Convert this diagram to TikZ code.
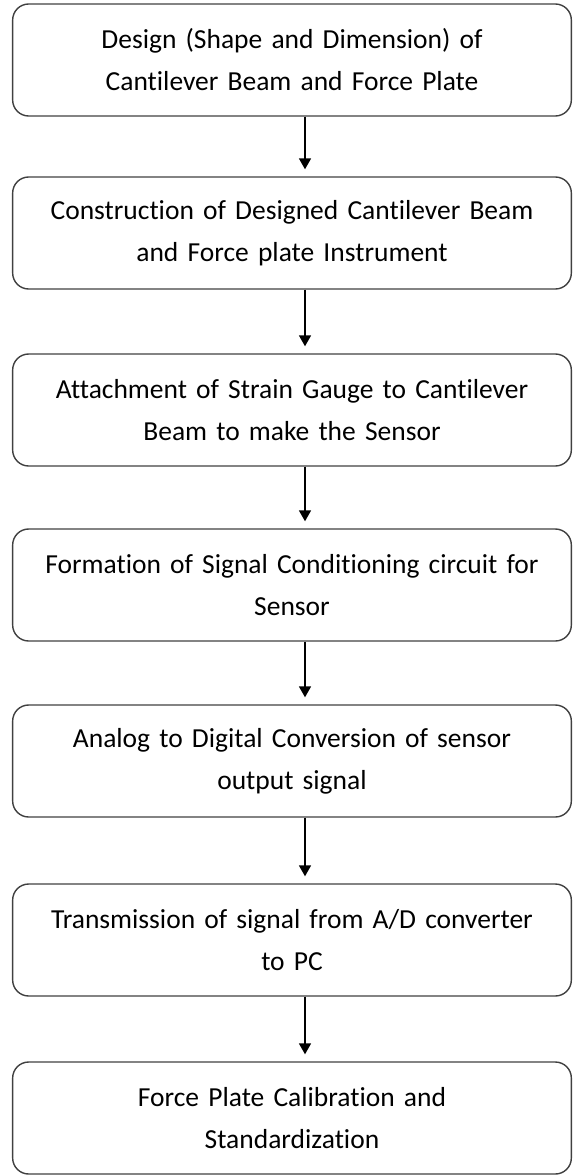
\documentclass[tikz,border=0pt]{standalone}
\usepackage{fontspec}
\setmainfont{Carlito}[Ligatures=NoCommon, WordSpace=0.9]
\usetikzlibrary{arrows.meta}
\tikzset{
	stepbox/.style={draw=black!75, line width=1.4pt, rounded corners=16pt, minimum width=558pt, minimum height=112pt, text width=552pt, align=center, font=\fontsize{27.5}{42}\selectfont},
	flow/.style={line width=1.6pt, -{Triangle[length=11pt,width=12pt]}, shorten >=7pt}
}

\begin{document}
\begin{tikzpicture}[x=1pt, y=-1pt]
			%%%%% START %%%%%
			
			\useasboundingbox (0, 0) rectangle (573, 1175);
			
			\node[stepbox] (design) at (292, 60) {Design (Shape and Dimension) of\\Cantilever Beam and Force Plate};
			\node[stepbox] (build) at (292, 233) {Construction of Designed Cantilever Beam\\and Force plate Instrument};
			\node[stepbox] (gauge) at (292, 410) {Attachment of Strain Gauge to Cantilever\\Beam to make the Sensor};
			\node[stepbox] (cond) at (292, 585) {Formation of Signal Conditioning circuit for\\Sensor};
			\node[stepbox] (adc) at (292, 761) {Analog to Digital Conversion of sensor\\output signal};
			\node[stepbox] (trans) at (292, 940) {Transmission of signal from A/D converter\\to PC};
			\node[stepbox] (calib) at (292, 1118) {Force Plate Calibration and\\Standardization};
			
			\draw[flow] ([xshift=13pt]design.south) -- ([xshift=13pt]build.north);
			\draw[flow] ([xshift=13pt]build.south) -- ([xshift=13pt]gauge.north);
			\draw[flow] ([xshift=13pt]gauge.south) -- ([xshift=13pt]cond.north);
			\draw[flow] ([xshift=13pt]cond.south) -- ([xshift=13pt]adc.north);
			\draw[flow] ([xshift=13pt]adc.south) -- ([xshift=13pt]trans.north);
			\draw[flow] ([xshift=13pt]trans.south) -- ([xshift=13pt]calib.north);
			
			%%%%% END %%%%%
		\end{tikzpicture}
\end{document}
